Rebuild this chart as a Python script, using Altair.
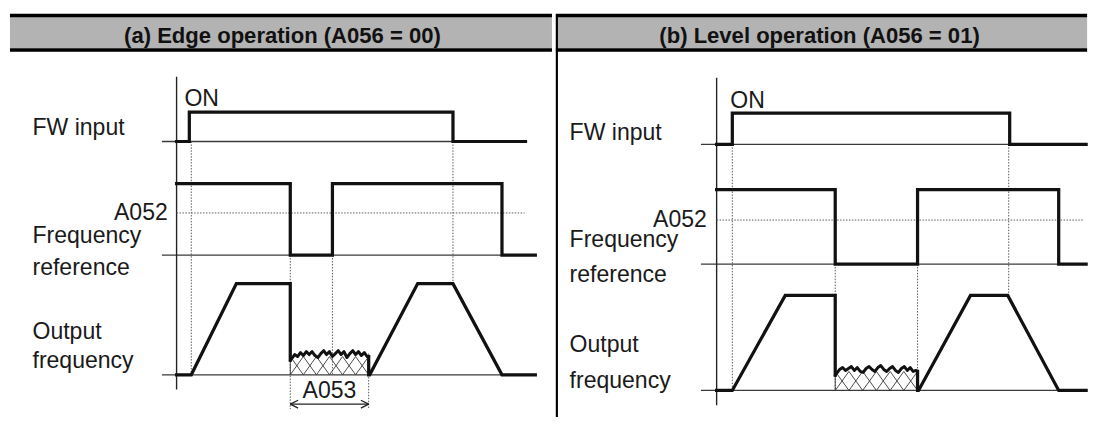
import altair as alt
import pandas as pd

# ---------------- values ----------------
# time is counted from the vertical axis of each panel; levels 0 = low, 1 = high
TITLES = ["(a) Edge operation (A056 = 00)", "(b) Level operation (A056 = 01)"]

# (a) Edge operation
A_FW_T = [0, 13, 13, 282, 282, 356]
A_FW_V = [0, 0, 1, 1, 0, 0]
A_REF_T = [0, 116, 116, 159, 159, 332, 332, 366]
A_REF_V = [1, 1, 0, 0, 1, 1, 0, 0]
A_OUT1_T = [0, 15, 61, 116, 116]
A_OUT1_V = [0, 0, 1, 1, 0.16]
A_NOISE_OFF = [-2, 2, 0, 4, 1, 5, 2, 5, 1, -1, 3, 6, 2, 5, 0, 3, 6, 2, 5, -1, 3, 6, 2, 5, 1, 4, 0]
A_OUT2_T = [196, 196, 197, 246, 282, 332, 366]
A_OUT2_V = [0.2, 0, 0, 1, 1, 0, 0]
A_NOISE_SPAN = [116, 196]
A_NOISE_LV = 0.2
A_A052_LV = 0.59
A_A053 = [116, 196]

# (b) Level operation
B_FW_T = [0, 16, 16, 299, 299, 377]
B_FW_V = [0, 0, 1, 1, 0, 0]
B_REF_T = [0, 121, 121, 205, 205, 349, 349, 377]
B_REF_V = [1, 1, 0, 0, 1, 1, 0, 0]
B_OUT1_T = [0, 16, 70, 121, 121]
B_OUT1_V = [0, 0, 1, 1, 0.16]
B_NOISE_OFF = [-2, 2, 4, 1, 3, 5, 1, 4, 0, -1, 3, 5, 2, 0, 4, 6, 2, 0, 3, 5, 1, -1, 3, 5, 1, 4, 0, 1]
B_OUT2_T = [205, 205, 206, 259, 297, 349, 377]
B_OUT2_V = [0.2, 0, 0, 1, 1, 0, 0]
B_NOISE_SPAN = [121, 205]
B_NOISE_LV = 0.2
B_A052_LV = 0.59

LABELS = ["FW input", "A052", "Frequency", "reference", "Output", "frequency", "ON"]

# ---------------- layout (positions / sizes) ----------------
HEIGHT = 412
WIDTHS = [552, 541]
FONT = "Liberation Sans"
LABEL_SIZE = 23.5
TITLE_SIZE = 22.5
LAYOUT = [
    dict(xmin=-169, fw0=131, fw1=101, ref0=247, ref1=174, out0=369, out1=276,
         bottom=404, axis_top=65, axis_bot=384, base_start=-15,
         fw_end=356, end=366, a052_end=355, title_t=108,
         label_t=-147, a052_t=-9, on_t=8,
         label_y=[124, 211, 235, 267, 333, 362, 95],
         guides=[(15, 'fw0', 'out0'), (282, 'fw0', 'out1'), (116, 'ref0', 'bottom'),
                 (159, 'ref0', 'out0'), (196, 'noise', 'bottom')]),
    dict(xmin=-163, fw0=134, fw1=102, ref0=256, ref1=180, out0=385, out1=288,
         bottom=404, axis_top=66, axis_bot=400, base_start=-16,
         fw_end=377, end=377, a052_end=374, title_t=105,
         label_t=-150, a052_t=-10, on_t=14,
         label_y=[129, 218, 239, 274, 346, 383, 97],
         guides=[(16, 'fw0', 'out0'), (298, 'fw0', 'out1'), (121, 'ref0', 'out0'),
                 (205, 'ref0', 'noise')]),
]
SIGNALS = [
    dict(fw=(A_FW_T, A_FW_V), ref=(A_REF_T, A_REF_V), out1=(A_OUT1_T, A_OUT1_V),
         noise=A_NOISE_OFF, out2=(A_OUT2_T, A_OUT2_V), span=A_NOISE_SPAN,
         noise_lv=A_NOISE_LV, a052=A_A052_LV, arrow=A_A053),
    dict(fw=(B_FW_T, B_FW_V), ref=(B_REF_T, B_REF_V), out1=(B_OUT1_T, B_OUT1_V),
         noise=B_NOISE_OFF, out2=(B_OUT2_T, B_OUT2_V), span=B_NOISE_SPAN,
         noise_lv=B_NOISE_LV, a052=B_A052_LV, arrow=None),
]


def panel(k):
    L, S, width = LAYOUT[k], SIGNALS[k], WIDTHS[k]
    xmax = L['xmin'] + width
    xs = alt.Scale(domain=[L['xmin'], xmax], nice=False, zero=False)
    ys = alt.Scale(domain=[0, HEIGHT], reverse=True, nice=False, zero=False)
    ex = alt.X('t:Q', scale=xs, axis=None)
    ey = alt.Y('y:Q', scale=ys, axis=None)

    def yl(row, lv):
        b, h = L[row + '0'], L[row + '1']
        return b - lv * (b - h)

    noise_y = yl('out', S['noise_lv'])
    ykey = dict(L)
    ykey['noise'] = noise_y - 3

    def rules(rows, **mk):
        df = pd.DataFrame(rows, columns=['t', 't2', 'y', 'y2'])
        return alt.Chart(df).mark_rule(**mk).encode(x=ex, x2='t2', y=ey, y2='y2')

    def text(rows, **mk):
        df = pd.DataFrame(rows, columns=['t', 'y', 'txt'])
        return alt.Chart(df).mark_text(baseline='alphabetic', font=FONT, **mk).encode(
            x=ex, y=ey, text='txt:N')

    layers = []
    # header bar
    hdr = pd.DataFrame({'t': [L['xmin'] - 1], 't2': [xmax], 'y': [4], 'y2': [36]})
    layers.append(alt.Chart(hdr).mark_rect(color='#b3b3b3').encode(x=ex, x2='t2', y=ey, y2='y2'))
    layers.append(rules([(L['xmin'] - 1, xmax, 2.5, 2.5), (L['xmin'] - 1, xmax, 37.7, 37.7)],
                        color='#000000', strokeWidth=3.6))
    if k == 1:
        layers.append(rules([(L['xmin'], L['xmin'], 1, HEIGHT)], color='#000000', strokeWidth=2.2))

    # thin baselines and axis
    layers.append(rules([(L['base_start'], L['fw_end'], L['fw0'], L['fw0']),
                         (L['base_start'], L['end'], L['ref0'], L['ref0']),
                         (L['base_start'], L['end'], L['out0'], L['out0'])],
                        color='#3a3a3a', strokeWidth=1.3))
    layers.append(rules([(0, 0, L['axis_top'], L['axis_bot'])], color='#222222', strokeWidth=1.4))

    # dotted guides
    a052_y = yl('ref', S['a052'])
    g = [(0, L['a052_end'], a052_y, a052_y)]
    for t, a, b in L['guides']:
        g.append((t, t, ykey[a], ykey[b]))
    layers.append(rules(g, color='#555555', strokeWidth=1, strokeDash=[1.5, 1.5]))

    # cross hatch under the noisy output
    t0, t1 = S['span']
    n = 6
    w = (t1 - t0) / n
    top = noise_y
    hat = []
    for i in range(n):
        a = t0 + i * w
        hat.append((a, a + w, L['out0'], top))
        hat.append((a, a + w, top, L['out0']))
    hat.append((t0, t0, top, L['out0']))
    hat.append((t1, t1, top, L['out0']))
    layers.append(rules(hat, color='#333333', strokeWidth=0.9))

    # square-wave / trapezoid signals
    pts = []
    for name, row in (('fw', 'fw'), ('ref', 'ref'), ('out1', 'out'), ('out2', 'out')):
        T, V = S[name]
        for i, (t, v) in enumerate(zip(T, V)):
            pts.append((name, i, t, yl(row, v)))
    sig = pd.DataFrame(pts, columns=['s', 'i', 't', 'y'])
    layers.append(alt.Chart(sig).mark_line(color='#111111', strokeWidth=3.3, strokeJoin='miter',
                                           strokeCap='square')
                  .encode(x=ex, y=ey, detail='s:N', order='i:Q'))

    # noisy output during the jogging
    npts = []
    nn = len(S['noise'])
    npts.append((0, t0, yl('out', S['out1'][1][-1])))
    for j, off in enumerate(S['noise']):
        t = t0 + 1.5 + (t1 - t0 - 3) * j / (nn - 1)
        npts.append((j + 1, t, noise_y - off))
    npts.append((nn + 1, t1, yl('out', S['out2'][1][0])))
    nz = pd.DataFrame(npts, columns=['i', 't', 'y'])
    layers.append(alt.Chart(nz).mark_line(color='#111111', strokeWidth=3.0, strokeJoin='round',
                                          strokeCap='round')
                  .encode(x=ex, y=ey, order='i:Q'))

    # A053 arrow
    if S['arrow'] is not None:
        a, b = S['arrow']
        ay = 399
        layers.append(rules([(a, b, ay, ay), (a, a + 8, ay, ay - 4), (a, a + 8, ay, ay + 4),
                             (b, b - 8, ay, ay - 4), (b, b - 8, ay, ay + 4)],
                            color='#222222', strokeWidth=1.3))
        layers.append(text([((a + b) / 2, 393, 'A053')], align='center',
                           fontSize=LABEL_SIZE, color='#1a1a1a'))

    # labels
    lab_left = []
    for name, y in zip(LABELS, L['label_y']):
        if name == 'A052':
            continue
        t = L['on_t'] if name == 'ON' else L['label_t']
        lab_left.append((t, y, name))
    layers.append(text(lab_left, align='left', fontSize=LABEL_SIZE, color='#1a1a1a'))
    layers.append(text([(L['a052_t'], L['label_y'][1], 'A052')], align='right',
                       fontSize=LABEL_SIZE, color='#1a1a1a'))
    layers.append(text([(L['title_t'], 31, TITLES[k])], align='center',
                       fontSize=TITLE_SIZE, fontWeight='bold', color='#111111'))

    return alt.layer(*layers).properties(width=width, height=HEIGHT)


chart = (alt.hconcat(panel(0), panel(1), spacing=0)
         .resolve_scale(x='independent', y='independent')
         .properties(padding=0, background='white')
         .configure_view(stroke=None))

chart.save("out.html", embed_options={"renderer": "svg", "actions": False})
